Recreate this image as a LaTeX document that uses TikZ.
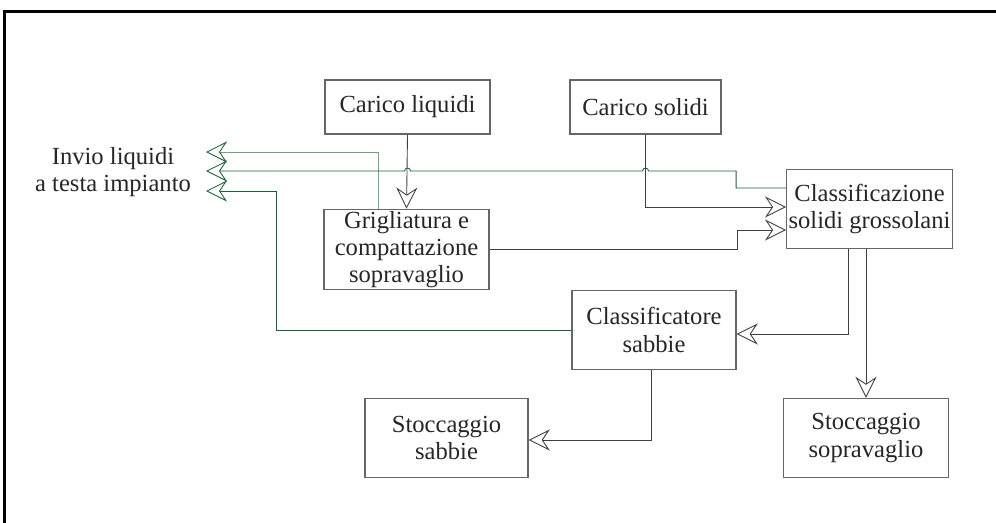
\documentclass[tikz,border=0pt]{standalone}
\usepackage{fontspec}
\setmainfont{Liberation Serif}
\usetikzlibrary{arrows.meta,calc}

\definecolor{gdark}{RGB}{30,95,55}
\definecolor{glight}{RGB}{105,165,125}

\begin{document}
\begin{tikzpicture}[x=0.02cm,y=-0.02cm,
    box/.style={draw=black!60,line width=0.8pt,align=center,minimum width=3.3cm,
      minimum height=1.58cm,inner sep=1pt,text=black!85,font=\fontsize{14}{15.5}\selectfont},
    tip/.style={-{Stealth[open,length=12pt,width=12pt,inset=4pt]}},
    flow/.style={tip,draw=black!75,line width=0.5pt},
    back/.style={tip,draw=gdark,line width=0.5pt}]
    \useasboundingbox (0,0) rectangle (996,522);

    % Frame
    \draw[line width=1.5pt] (4.5,530) -- (4.5,11.5) -- (1000,11.5);

    % Input nodes
    \node[box,minimum height=1.08cm] (liq) at (407.5,107) {Carico liquidi};
    \node[box,minimum height=1.08cm,minimum width=3.02cm] (sol) at (645.5,107) {Carico solidi};

    % Treatment nodes
    \node[box] (grig) at (406.5,249.5) {Grigliatura e\\compattazione\\sopravaglio};
    \node[box] (cls) at (869.5,209) {Classificazione\\solidi grossolani};
    \node[box,minimum width=3.28cm] (sab) at (654,330) {Classificatore\\sabbie};

    % Storage nodes
    \node[box,minimum width=3.26cm] (stsab) at (446.5,438) {Stoccaggio\\sabbie};
    \node[box] (stsop) at (866,438) {Stoccaggio\\sopravaglio};

    % Return to plant
    \node[align=center,text=black!85,font=\fontsize{14}{15.5}\selectfont] (invio) at (113,172) {Invio liquidi\\a testa impianto};
    \coordinate (out1) at (206,152);
    \coordinate (out2) at (206,171);
    \coordinate (out3) at (206,191);

    % Main flow
    \draw[flow] (liq.south) -- (grig.north);
    \draw[flow] (sol.south) |- ($(cls.west)+(0,-2)$);
    \draw[flow] (grig.east) -- ++(248,0) |- ($(cls.west)+(0,21)$);
    \draw[flow] ($(cls.south)+(-21.5,0)$) |- ($(sab.east)+(0,4)$);
    \draw[flow] ($(cls.south)+(-3.5,0)$) -- (stsop.north);
    \draw[flow] ($(sab.south)+(-3,0)$) |- ($(stsab.east)+(0,2)$);

    % Liquids back to the plant
    \draw[back,draw=glight,-{Stealth[open,length=12pt,width=12pt,inset=4pt,color=gdark]}]
      ($(grig.north)+(-28.5,0)$) |- (out1);
    \draw[back] ($(cls.west)+(0,-21)$) -- ++(-50,0) -- ++(0,-17) -- (648.5,171)
      arc[start angle=0,end angle=-180,radius=3] -- (410.5,171)
      arc[start angle=0,end angle=-180,radius=3] -- (out2);
    \draw[back] (sab.west) -- (276,330) |- (out3);
\end{tikzpicture}
\end{document}
